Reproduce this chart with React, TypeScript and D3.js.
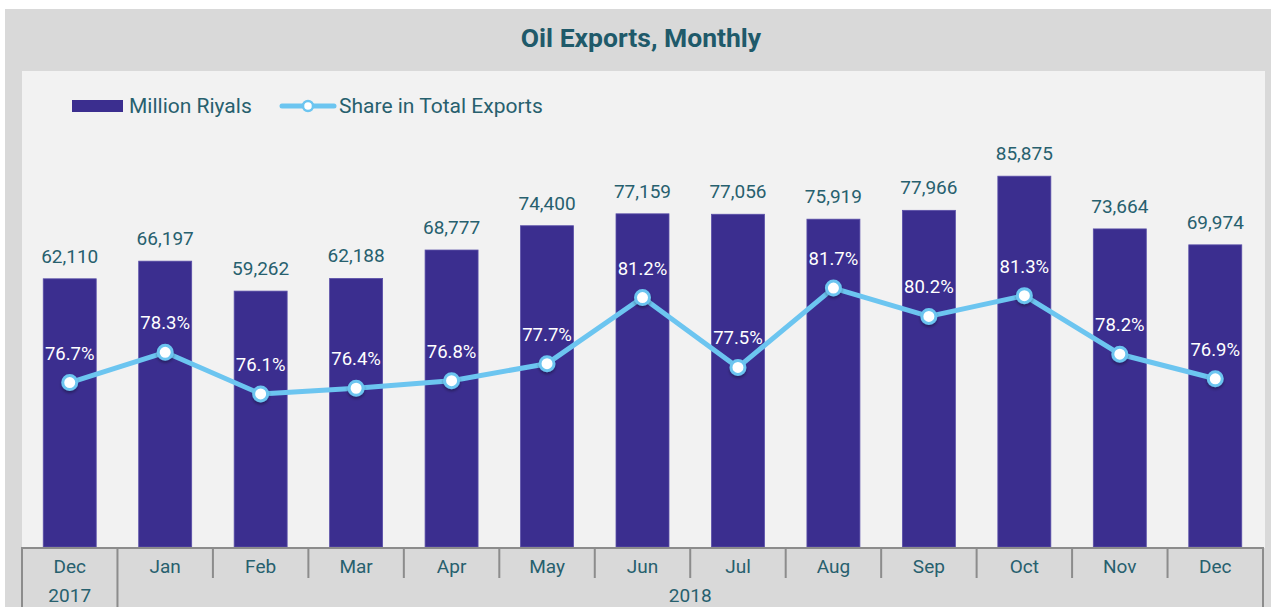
import React from "react";
import * as d3 from "d3";

const months = ["Dec", "Jan", "Feb", "Mar", "Apr", "May", "Jun", "Jul", "Aug", "Sep", "Oct", "Nov", "Dec"];
const years = [
  { label: "2017", from: 0, to: 0 },
  { label: "2018", from: 1, to: 12 },
];
const millionRiyals = [62110, 66197, 59262, 62188, 68777, 74400, 77159, 77056, 75919, 77966, 85875, 73664, 69974];
const sharePct = [76.7, 78.3, 76.1, 76.4, 76.8, 77.7, 81.2, 77.5, 81.7, 80.2, 81.3, 78.2, 76.9];

const W = 1271;
const H = 607;
const plotL = 22, plotR = 1263, plotT = 71, plotB = 547;
const FONT = "Roboto, 'Noto Sans', sans-serif";
const TEAL = "#27606e";
const BAR = "#3b2e8f";
const LINE = "#6cc5f0";

export default function App() {
  const idx = months.map((_, i) => i);
  const x = d3.scaleBand<number>().domain(idx).range([plotL, plotR]).paddingInner(0).paddingOuter(0);
  const bw = x.bandwidth();
  const barW = bw * 0.555;
  const y = d3.scaleLinear().domain([0, 100000]).range([plotB, plotB - 431.8]);
  const y2 = d3.scaleLinear().domain([68, 91]).range([plotB, plotB - 23 * 18.9]);
  const cx = (i: number) => (x(i) as number) + bw / 2;
  const line = d3.line<number>().x((_, i) => cx(i)).y((d) => y2(d));
  const fmt = d3.format(",");
  const edges = [...idx.map((i) => x(i) as number), plotR];
  const longEdges = new Set([0, 1, 13]);

  return (
    <div style={{ position: "absolute", left: 0, top: 0, width: W, height: H, background: "#fff" }}>
      <svg width={W} height={H} style={{ display: "block", fontFamily: FONT }}>
        <defs>
          <filter id="sh" x="-50%" y="-50%" width="200%" height="200%">
            <feDropShadow dx="0" dy="2" stdDeviation="1.5" floodColor="#000" floodOpacity="0.35" />
          </filter>
        </defs>
        <rect x={5} y={9} width={W - 5} height={H - 9} fill="#d9d9d9" />
        <rect x={plotL} y={plotT} width={1265 - plotL} height={plotB - plotT + 1} fill="#f2f2f2" />
        <text x={641} y={47} textAnchor="middle" fontSize={26.5} fontWeight="bold" fill="#1f5a6a">
          Oil Exports, Monthly
        </text>
        {/* legend */}
        <rect x={72} y={100} width={51} height={12} fill={BAR} />
        <text x={129} y={112.5} fontSize={21} fill={TEAL}>Million Riyals</text>
        <line x1={282} x2={334} y1={106} y2={106} stroke={LINE} strokeWidth={5} strokeLinecap="round" />
        <circle cx={308} cy={106} r={5} fill="#fff" stroke={LINE} strokeWidth={2.5} />
        <text x={339} y={112.5} fontSize={21} fill={TEAL}>Share in Total Exports</text>
        {/* bars */}
        {millionRiyals.map((v, i) => (
          <g key={"b" + i}>
            <rect x={cx(i) - barW / 2} y={y(v)} width={barW} height={plotB - y(v)} fill={BAR} stroke="#5a4fa8" strokeWidth={0.8} />
            <text x={cx(i)} y={y(v) - 16} textAnchor="middle" fontSize={19} fill={TEAL}>{fmt(v)}</text>
          </g>
        ))}
        {/* line */}
        <path d={line(sharePct) || ""} fill="none" stroke={LINE} strokeWidth={5} strokeLinejoin="round" />
        {sharePct.map((v, i) => (
          <circle key={"c" + i} cx={cx(i)} cy={y2(v)} r={7} fill="#fff" stroke={LINE} strokeWidth={3} filter="url(#sh)" />
        ))}
        {sharePct.map((v, i) => (
          <text key={"t" + i} x={cx(i)} y={y2(v) - 23} textAnchor="middle" fontSize={18.5} fill="#fff">{v.toFixed(1)}%</text>
        ))}
        {/* axis */}
        <line x1={plotL} x2={plotR} y1={plotB + 1} y2={plotB + 1} stroke="#8c8c8c" strokeWidth={2} />
        {edges.map((e, k) => (
          <line key={"e" + k} x1={e} x2={e} y1={plotB} y2={longEdges.has(k) ? H : 578} stroke="#8c8c8c" strokeWidth={2} />
        ))}
        {months.map((m, i) => (
          <text key={"m" + i} x={cx(i)} y={573} textAnchor="middle" fontSize={19} fill={TEAL}>{m}</text>
        ))}
        {years.map((yr) => (
          <text key={yr.label} x={((x(yr.from) as number) + (x(yr.to) as number) + bw) / 2} y={602} textAnchor="middle" fontSize={19} fill={TEAL}>
            {yr.label}
          </text>
        ))}
      </svg>
    </div>
  );
}
